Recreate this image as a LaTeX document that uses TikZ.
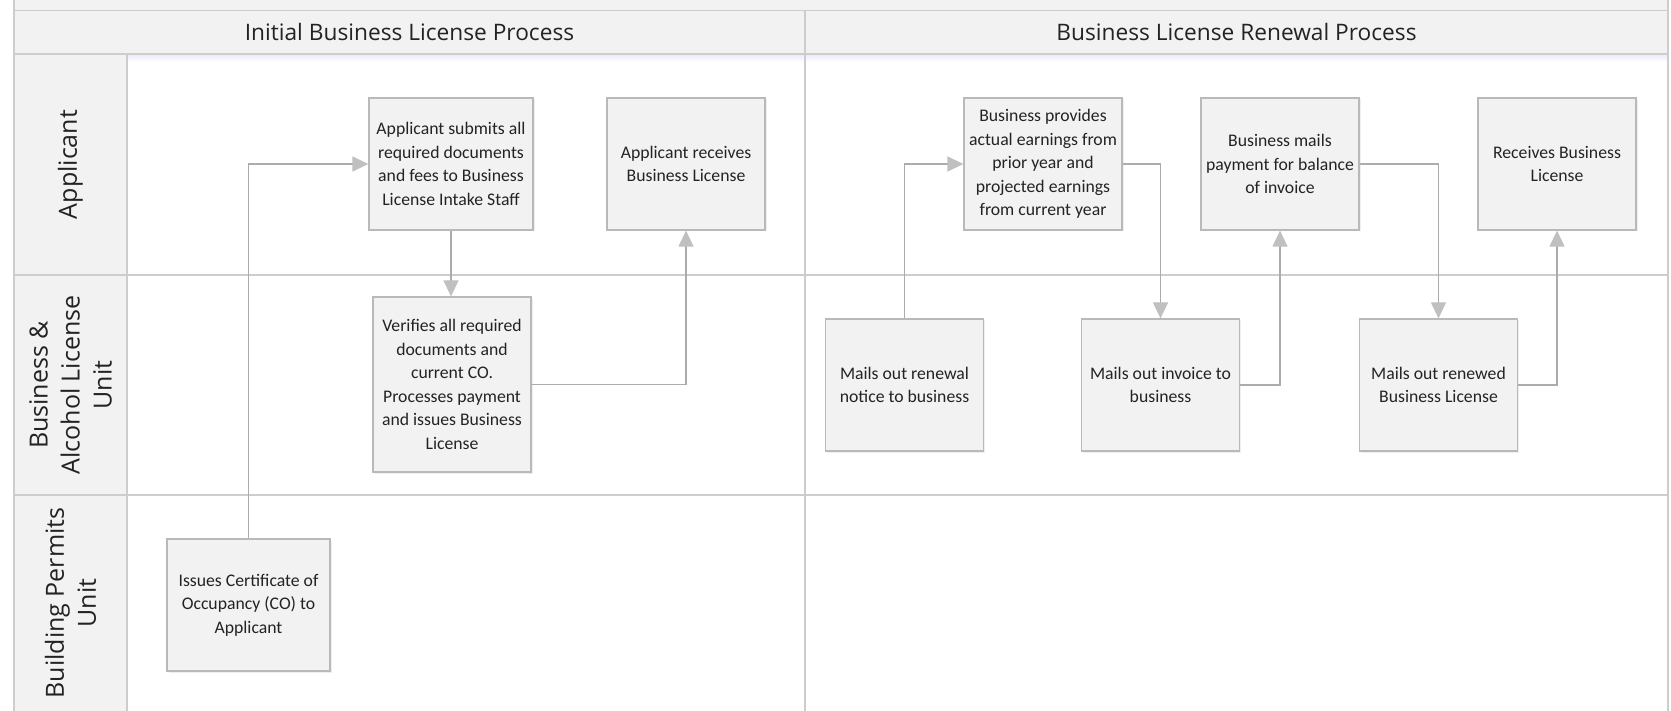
\documentclass[tikz,border=0pt]{standalone}
\usepackage{fontspec}
\setmainfont{Carlito}
\newfontfamily\lanefont{Open Sans}
\usetikzlibrary{arrows.meta,positioning,shadows}

\definecolor{panelgray}{RGB}{242,242,242}
\definecolor{rulegray}{RGB}{205,205,205}
\definecolor{boxedge}{RGB}{185,185,185}
\definecolor{flowgray}{RGB}{172,172,172}
\definecolor{tipgray}{RGB}{192,192,192}
\definecolor{inkgray}{RGB}{35,35,35}

\begin{document}
\begin{tikzpicture}[x=1pt, y=-1pt,
  task/.style={draw=boxedge, line width=1.2pt, fill=panelgray, align=center, inner sep=2pt, minimum width=158pt, minimum height=132pt, font=\fontsize{17.7}{23.5}\selectfont, text=inkgray, drop shadow={opacity=.12, shadow xshift=1.5pt, shadow yshift=-1.5pt}},
  flow/.style={draw=flowgray, line width=1.2pt, -{Triangle[width=15pt,length=16pt,color=tipgray]}},
  lane/.style={font=\lanefont\fontsize{25}{32}\selectfont, text=inkgray, align=center, rotate=90},
  phase/.style={font=\lanefont\fontsize{22.7}{27}\selectfont, text=inkgray}]
  \useasboundingbox (0,0) rectangle (1671,711);

  % Pool, phase headers and lane headers
  \fill[white] (0,0) rectangle (1671,711);
  \fill[panelgray] (14,0) rectangle (1668,54);
  \fill[panelgray] (14,54) rectangle (127,711);
  \shade[top color=blue!8, bottom color=white] (127,54.5) rectangle (1668,62);
  \draw[rulegray, line width=1.5pt]
    (14,0) -- (14,711)
    (1668,0) -- (1668,711)
    (14,10.7) -- (1668,10.7)
    (14,54) -- (1668,54)
    (127,54) -- (127,711)
    (14,275) -- (1668,275)
    (14,495) -- (1668,495)
    (805,10.7) -- (805,711);

  \node[phase] (initial) at (409.5,32) {Initial Business License Process};
  \node[phase] (renewal) at (1236.5,32) {Business License Renewal Process};

  \node[lane] (applicant) at (70.5,164.5) {Applicant};
  \node[lane] (bizunit) at (70.5,385) {Business \&\\Alcohol License\\Unit};
  \node[lane] (permits) at (70.5,603) {Building Permits\\Unit};

  % Tasks of the initial process
  \node[task, minimum width=164pt] (submit) at (451,164) {Applicant submits all\\required documents\\and fees to Business\\License Intake Staff};
  \node[task] (receive) at (686,164) {Applicant receives\\Business License};
  \node[task, minimum height=175pt] (verify) at (452,384.5) {Verifies all required\\documents and\\current CO.\\Processes payment\\and issues Business\\License};
  \node[task, minimum width=163pt] (cert) at (248.5,605) {Issues Certificate of\\Occupancy (CO) to\\Applicant};

  % Tasks of the renewal process
  \node[task] (provide) at (1043,164) {Business provides\\actual earnings from\\prior year and\\projected earnings\\from current year};
  \node[task] (pay) at (1280,164) {Business mails\\payment for balance\\of invoice};
  \node[task] (license) at (1557,164) {Receives Business\\License};
  \node[task] (notice) at (904.5,385) {Mails out renewal\\notice to business};
  \node[task] (invoice) at (1160.5,385) {Mails out invoice to\\business};
  \node[task] (renewed) at (1438.5,385) {Mails out renewed\\Business License};

  % Sequence flows
  \draw[flow] (cert.north) |- (submit.west);
  \draw[flow] (submit.south) -- (submit.south |- verify.north);
  \draw[flow] (verify.east) -| (receive.south);
  \draw[flow] (notice.north) |- (provide.west);
  \draw[flow] (provide.east) -| (invoice.north);
  \draw[flow] (invoice.east) -| (pay.south);
  \draw[flow] (pay.east) -| (renewed.north);
  \draw[flow] (renewed.east) -| (license.south);
\end{tikzpicture}
\end{document}
